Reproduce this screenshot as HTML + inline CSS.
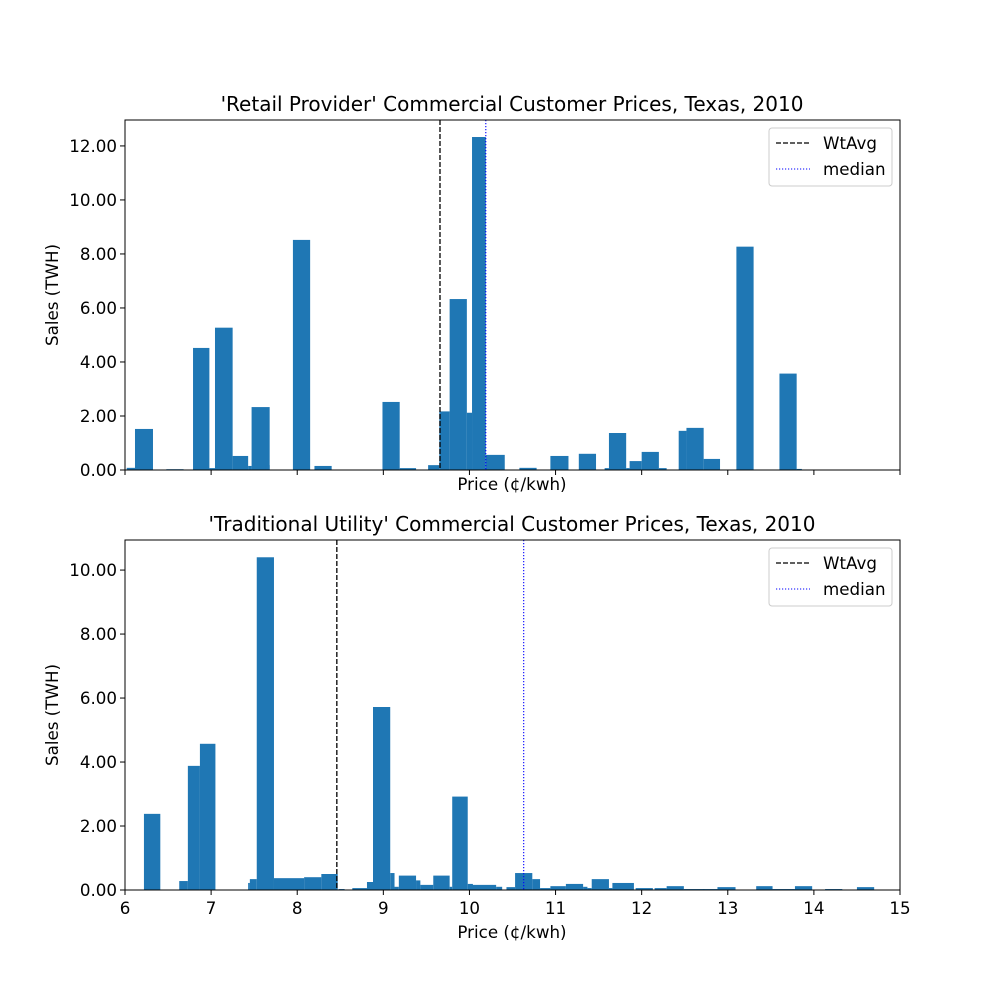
<!DOCTYPE html>
<html><head><meta charset="utf-8"><style>
body{margin:0;background:#fff}
text{font-family:"DejaVu Sans","Liberation Sans",sans-serif;fill:#000}
</style></head><body>
<svg id="chart" width="1000" height="1000" xmlns="http://www.w3.org/2000/svg"></svg>
<script>
// Top chart data (bin left edge, right edge in ¢/kwh, sales TWh)
const topLeft  = [6.02,6.116,6.48,6.79,6.98,7.045,7.25,7.43,7.47,7.63,7.95,8.2,8.99,9.19,9.52,9.65,9.77,9.97,10.03,10.19,10.58,10.94,11.27,11.57,11.62,11.82,11.86,12.0,12.2,12.43,12.52,12.72,13.1,13.6,13.8];
const topRight = [6.116,6.325,6.68,6.98,7.045,7.25,7.43,7.47,7.68,7.68,8.15,8.4,9.19,9.38,9.65,9.77,9.97,10.03,10.19,10.41,10.78,11.15,11.47,11.62,11.82,11.86,12.0,12.2,12.29,12.52,12.72,12.91,13.3,13.8,13.86];
const topVals  = [0.08,1.52,0.03,4.52,0.07,5.27,0.52,0.15,2.33,0.18,8.52,0.15,2.52,0.07,0.18,2.17,6.33,2.12,12.33,0.56,0.08,0.52,0.6,0.07,1.37,0.07,0.33,0.67,0.07,1.45,1.56,0.41,8.27,3.57,0.04];
const topWtAvg = 9.658, topMedian = 10.19;
// Bottom chart data
const botLeft  = [6.22,6.63,6.73,6.87,7.43,7.45,7.53,7.73,8.08,8.28,8.48,8.64,8.81,8.88,9.08,9.13,9.18,9.38,9.43,9.58,9.77,9.8,9.98,9.99,10.31,10.45,10.43,10.53,10.73,10.82,10.94,11.12,11.32,11.37,11.42,11.62,11.66,11.93,12.15,12.29,12.49,12.71,12.88,13.33,13.52,13.78,14.13,14.5];
const botRight = [6.41,6.73,6.87,7.05,7.45,7.53,7.73,8.08,8.28,8.47,8.55,8.81,8.88,9.08,9.13,9.18,9.38,9.43,9.58,9.77,9.8,9.98,10.04,10.31,10.38,10.5,10.53,10.73,10.82,10.94,11.12,11.32,11.37,11.42,11.62,11.66,11.91,12.13,12.29,12.49,12.73,12.88,13.09,13.52,13.78,13.98,14.33,14.7];
const botVals  = [2.38,0.28,3.88,4.57,0.22,0.34,10.4,0.37,0.4,0.5,0.03,0.06,0.25,5.72,0.53,0.1,0.45,0.3,0.16,0.45,0.1,2.92,0.19,0.16,0.1,0.06,0.09,0.53,0.34,0.06,0.12,0.19,0.1,0.06,0.34,0.06,0.22,0.06,0.06,0.12,0.03,0.03,0.09,0.12,0.03,0.12,0.03,0.09];
const botWtAvg = 8.46, botMedian = 10.63;
const xTicks = [6,7,8,9,10,11,12,13,14,15];
const topYTicks = [0,2,4,6,8,10,12];
const botYTicks = [0,2,4,6,8,10];

const NS="http://www.w3.org/2000/svg";
const svg=document.getElementById('chart');
function el(tag,attrs,parent){const e=document.createElementNS(NS,tag);for(const k in attrs)e.setAttribute(k,attrs[k]);(parent||svg).appendChild(e);return e;}
const X0=125,X1=900,XMIN=6,XMAX=15;
function xs(p){return X0+(p-XMIN)*(X1-X0)/(XMAX-XMIN);}
const FS=16.7;

function panel(name,yTop,yBot,ymax,left,right,vals,yt,wt,med,title,showXLabels){
  const g=el('g',{});
  
  
  const ys=v=>yBot-v*(yBot-yTop)/ymax;
  for(let i=0;i<vals.length;i++){
    const r=el('rect',{x:xs(left[i]),y:ys(vals[i]),width:xs(right[i])-xs(left[i]),height:yBot-ys(vals[i]),fill:'#1f77b4'},g);
    
    
  }
  const l1=el('line',{x1:xs(wt),x2:xs(wt),y1:yTop,y2:yBot,stroke:'#000','stroke-width':1.3,'stroke-dasharray':'5,2'},g);
  
  
  const l2=el('line',{x1:xs(med),x2:xs(med),y1:yTop,y2:yBot,stroke:'#00f','stroke-width':1.1,'stroke-dasharray':'1.2,1.8'},g);
  
  
  const fr=el('rect',{x:X0,y:yTop,width:X1-X0,height:yBot-yTop,fill:'none',stroke:'#000','stroke-width':1},g);
  
  
  xTicks.forEach(t=>{
    el('line',{x1:xs(t),x2:xs(t),y1:yBot,y2:yBot+5,stroke:'#000','stroke-width':1},g);
    if(showXLabels){const tx=el('text',{x:xs(t),y:yBot+24,'font-size':FS,'text-anchor':'middle'},g);tx.textContent=t;
      
      }
  });
  yt.forEach(t=>{
    el('line',{x1:X0-5,x2:X0,y1:ys(t),y2:ys(t),stroke:'#000','stroke-width':1},g);
    const tx=el('text',{x:X0-8,y:ys(t)+6,'font-size':FS,'text-anchor':'end'},g);tx.textContent=t.toFixed(2);
    
    
  });
  const tt=el('text',{x:512,y:yTop-9,'font-size':20,'text-anchor':'middle'},g);tt.textContent=title;
  
  
  const xl=el('text',{x:512,y:yBot+(showXLabels?48:20),'font-size':FS,'text-anchor':'middle'},g);xl.textContent='Price (¢/kwh)';
  
  
  const yl=el('text',{x:0,y:0,'font-size':FS,'text-anchor':'middle',transform:`translate(58,${(yTop+yBot)/2}) rotate(-90)`},g);yl.textContent='Sales (TWH)';
  
  
  const lg=el('g',{},g);
  
  
  el('rect',{x:769,y:yTop+8,width:123,height:58,rx:3,fill:'#fff',stroke:'#ccc','stroke-width':1},lg);
  el('line',{x1:776,x2:810,y1:yTop+23,y2:yTop+23,stroke:'#000','stroke-width':1.3,'stroke-dasharray':'5,2'},lg);
  el('line',{x1:776,x2:810,y1:yTop+49,y2:yTop+49,stroke:'#00f','stroke-width':1.1,'stroke-dasharray':'1.2,1.8'},lg);
  const a=el('text',{x:823,y:yTop+29,'font-size':FS},lg);a.textContent='WtAvg';
  
  
  const b=el('text',{x:823,y:yTop+55,'font-size':FS},lg);b.textContent='median';
  
  
}
panel('top-panel',120,470,12.96,topLeft,topRight,topVals,topYTicks,topWtAvg,topMedian,"'Retail Provider' Commercial Customer Prices, Texas, 2010",false);
panel('bottom-panel',540,890,10.94,botLeft,botRight,botVals,botYTicks,botWtAvg,botMedian,"'Traditional Utility' Commercial Customer Prices, Texas, 2010",true);
</script>
</body></html>
